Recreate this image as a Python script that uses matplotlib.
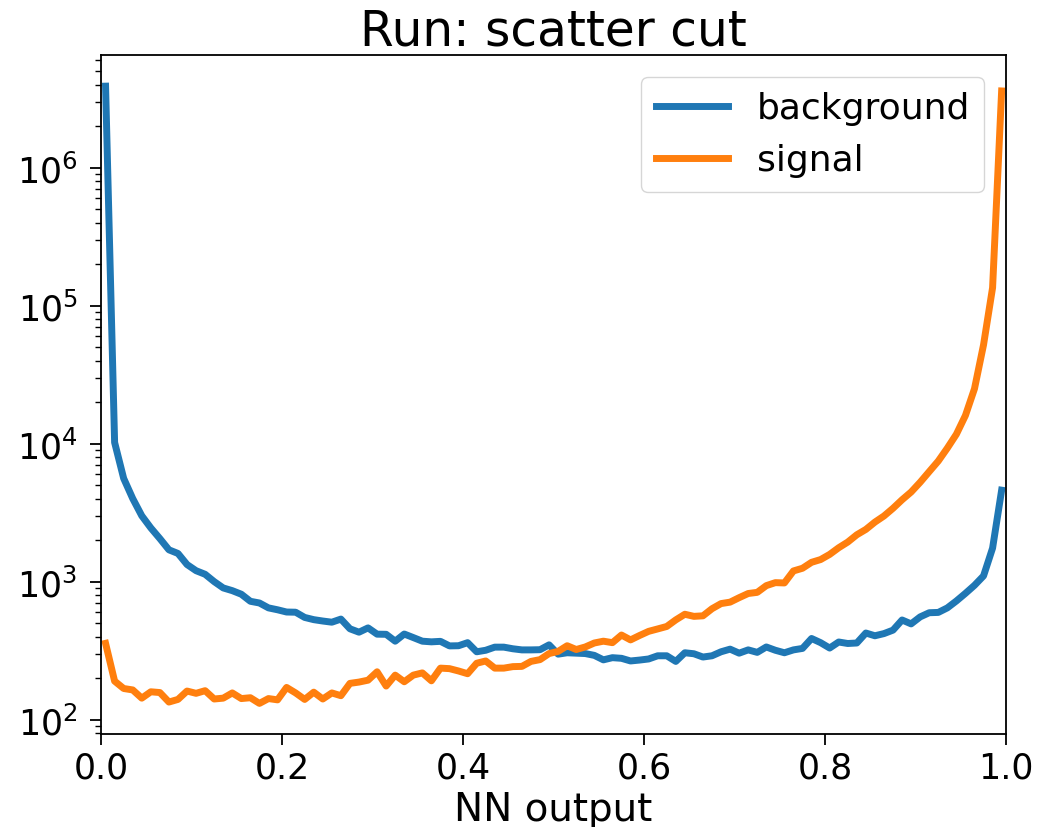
import numpy as np
import matplotlib
matplotlib.use("Agg")
import matplotlib.pyplot as plt

# Histogram of network output, 100 bins over [0, 1]
bin_centers = np.arange(100) * 0.01 + 0.005

background = [
    3.9e6, 10200, 5600, 4000, 3000, 2450, 2050, 1700, 1600, 1330,
    1200, 1130, 1000, 900, 860, 810, 720, 700, 645, 625,
    602, 600, 550, 530, 518, 508, 535, 455, 430, 462,
    416, 415, 370, 417, 393, 370, 366, 369, 342, 343,
    361, 310, 318, 335, 335, 326, 320, 320, 321, 348,
    298, 305, 303, 301, 292, 271, 281, 278, 266, 270,
    275, 290, 290, 264, 305, 300, 284, 290, 310, 324,
    303, 320, 307, 336, 318, 305, 320, 328, 387, 361,
    330, 365, 356, 359, 424, 405, 420, 445, 527, 494,
    555, 595, 598, 645, 724, 822, 940, 1100, 1750, 4600,
]

signal = [
    357, 190, 168, 164, 143, 159, 157, 134, 140, 161,
    155, 162, 141, 143, 156, 142, 144, 131, 142, 139,
    171, 156, 140, 158, 141, 156, 149, 183, 187, 193,
    222, 175, 210, 188, 210, 218, 191, 236, 234, 225,
    215, 256, 266, 236, 236, 242, 243, 264, 272, 301,
    312, 343, 322, 336, 359, 370, 361, 410, 378, 407,
    436, 454, 473, 528, 580, 560, 565, 636, 693, 710,
    765, 820, 836, 935, 983, 978, 1195, 1250, 1380, 1445,
    1575, 1760, 1935, 2185, 2390, 2700, 2990, 3400, 3920, 4460,
    5250, 6270, 7480, 9280, 11700, 16000, 25000, 52000, 135000, 3.6e6,
]

fig = plt.figure(figsize=(10.58, 8.28), dpi=100)
ax = fig.add_axes([0.0955, 0.112, 0.8555, 0.820])

ax.plot(bin_centers, background, color="#1f77b4", lw=5, label="background")
ax.plot(bin_centers, signal, color="#ff7f0e", lw=5, label="signal")

ax.set_yscale("log")
ax.set_xlim(0, 1)
ax.set_title("Run: scatter cut", fontsize=35, pad=8)
ax.set_xlabel("NN output", fontsize=28, labelpad=4)
ax.tick_params(axis="both", which="major", labelsize=25, length=8, width=1.3)
ax.tick_params(axis="y", which="major", pad=9)
ax.tick_params(axis="both", which="minor", length=4.5, width=1.0)
for s in ax.spines.values():
    s.set_linewidth(1.3)

ax.legend(loc="upper right", fontsize=26, framealpha=0.8, borderaxespad=0.6)

fig.savefig("out.png", dpi=100)
